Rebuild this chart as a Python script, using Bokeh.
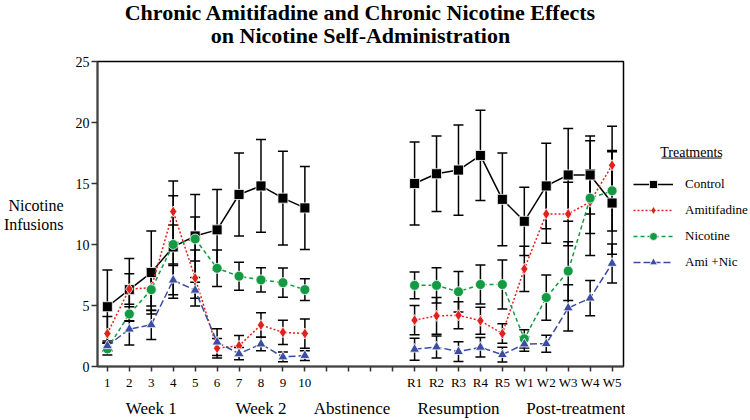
from bokeh.plotting import figure
from bokeh.layouts import row
from bokeh.models import (Range1d, FixedTicker, LinearAxis, Whisker, TeeHead,
                          ColumnDataSource, Label, Legend, LegendItem, Arrow, Title)
from bokeh.embed import file_html
from bokeh.resources import INLINE

FONT = "Liberation Serif"

# ---- data ----
tick_positions = list(range(1, 25))
tick_labels = ["1", "2", "3", "4", "5", "6", "7", "8", "9", "10",
               "", "", "", "",
               "R1", "R2", "R3", "R4", "R5", "W1", "W2", "W3", "W4", "W5"]
sessions_week = [1, 2, 3, 4, 5, 6, 7, 8, 9, 10]
sessions_resume = [15, 16, 17, 18, 19, 20, 21, 22, 23, 24]

control = [4.9, 6.3, 7.7, 9.8, 10.7, 11.2, 14.1, 14.8, 13.8, 13.0,
           15.0, 15.8, 16.1, 17.3, 13.7, 11.9, 14.8, 15.7, 15.7, 13.4]
control_err = [3.0, 2.55, 3.4, 4.2, 3.4, 3.3, 3.4, 3.8, 3.85, 3.4,
               3.4, 3.1, 3.7, 3.7, 3.8, 2.8, 3.5, 3.8, 3.2, 4.2]
amitifadine = [2.7, 6.35, 6.45, 12.7, 7.25, 1.5, 1.7, 3.4, 2.8, 2.7,
               3.8, 4.15, 4.2, 3.75, 2.7, 8.0, 12.5, 12.5, 13.5, 16.5]
amitifadine_err = [1.4, 1.25, 1.5, 2.5, 2.3, 0.8, 0.85, 1.0, 1.0, 1.2,
                   1.2, 1.5, 1.1, 1.1, 0.8, 1.85, 2.4, 2.6, 2.6, 3.2]
nicotine = [1.45, 4.3, 6.3, 10.0, 10.45, 8.05, 7.4, 7.1, 6.87, 6.3,
            6.65, 6.65, 6.13, 6.72, 6.72, 2.27, 5.65, 7.82, 13.8, 14.4]
nicotine_err = [0.5, 0.6, 1.7, 1.6, 1.8, 1.5, 1.15, 1.0, 1.2, 0.9,
                1.1, 1.45, 1.66, 1.6, 2.0, 0.75, 1.85, 2.4, 4.7, 3.3]
ami_nic = [1.7, 3.06, 3.42, 7.08, 6.25, 2.0, 1.05, 1.84, 0.78, 0.9,
           1.41, 1.6, 1.22, 1.57, 0.97, 1.84, 1.87, 4.8, 5.6, 8.45]
ami_nic_err = [0.4, 1.3, 1.2, 1.2, 0.65, 1.1, 0.5, 0.55, 0.4, 0.4,
               0.9, 0.9, 0.8, 0.8, 0.6, 0.6, 0.7, 1.9, 1.45, 1.6]

group_positions = [3, 8, 12.15, 17, 22.5]
group_labels = ["Week 1", "Week 2", "Abstinence", "Resumption", "Post-treatment"]

ylabel_positions = [13.2, 11.65]
ylabel_lines = ["Nicotine", "Infusions"]

title_lines = ["Chronic Amitifadine and Chronic Nicotine Effects",
               "on Nicotine Self-Administration"]
legend_title = "Treatments"

series = [
    ("Control", control, control_err, "black", "solid", "square", 10),
    ("Amitifadine", amitifadine, amitifadine_err, "#e3211c", "2 2", "diamond", 11),
    ("Nicotine", nicotine, nicotine_err, "#139a43", "4 3", "circle", 10),
    ("Ami +Nic", ami_nic, ami_nic_err, "#3b4da3", "7 3", "triangle", 10),
]

p = figure(width=625, height=420, output_backend="svg", toolbar_location=None,
           x_range=Range1d(0.55, 24.52), y_range=Range1d(0, 25),
           min_border_left=93, min_border_right=2, min_border_top=61,
           min_border_bottom=51, title=None)
p.grid.visible = False
p.outline_line_color = "black"
p.outline_line_width = 1.5

xs_all = sessions_week + sessions_resume
n = len(sessions_week)
for name, vals, errs, color, dash, marker, size in series:
    src = ColumnDataSource(dict(x=xs_all, y=vals,
                                upper=[v + e for v, e in zip(vals, errs)],
                                lower=[v - e for v, e in zip(vals, errs)]))
    w = Whisker(source=src, base="x", upper="upper", lower="lower",
                line_color="black", line_width=1.5,
                upper_head=TeeHead(size=10, line_color="black", line_width=1.5),
                lower_head=TeeHead(size=10, line_color="black", line_width=1.5))
    p.add_layout(w)
    p.line(sessions_week, vals[:n], line_color=color, line_dash=dash, line_width=1.5)
    p.line(sessions_resume, vals[n:], line_color=color, line_dash=dash, line_width=1.5)
    p.scatter("x", "y", source=src, marker=marker, size=size,
              fill_color=color, line_color="white", line_width=0.8)

# axes
xa = p.xaxis[0]
xa.ticker = FixedTicker(ticks=tick_positions)
xa.major_label_overrides = {t: s for t, s in zip(tick_positions, tick_labels)}
xa.major_tick_in = 0
xa.major_tick_out = 5
xa.minor_tick_line_color = None
xa.axis_line_color = "#444444"
xa.axis_line_width = 2
xa.major_tick_line_color = "#333333"
xa.major_tick_line_width = 1.5
xa.major_label_text_font = FONT
xa.major_label_text_font_size = "13px"
xa.major_label_standoff = 3
xa.major_label_text_color = "black"

ya = p.yaxis[0]
ya.ticker = FixedTicker(ticks=[0, 5, 10, 15, 20, 25])
ya.major_tick_in = 0
ya.major_tick_out = 6
ya.minor_tick_line_color = None
ya.axis_line_color = "#444444"
ya.axis_line_width = 2
ya.major_tick_line_color = "#333333"
ya.major_tick_line_width = 1.5
ya.major_label_text_font = FONT
ya.major_label_text_font_size = "14px"
ya.major_label_standoff = 2
ya.major_label_text_color = "black"
ya.axis_label_standoff = 0

gax = LinearAxis(ticker=FixedTicker(ticks=group_positions),
                 major_label_overrides={t: s for t, s in zip(group_positions, group_labels)},
                 axis_line_color=None, major_tick_line_color=None,
                 minor_tick_line_color=None, major_label_standoff=0,
                 major_label_text_font=FONT, major_label_text_font_size="17px",
                 major_label_text_color="black")
p.add_layout(gax, "below")

lax = LinearAxis(ticker=FixedTicker(ticks=ylabel_positions),
                 major_label_overrides={t: s for t, s in zip(ylabel_positions, ylabel_lines)},
                 axis_line_color=None, major_tick_line_color=None,
                 minor_tick_line_color=None, major_label_standoff=3,
                 axis_label_standoff=0,
                 major_label_text_font=FONT, major_label_text_font_size="16px",
                 major_label_text_color="black")
p.add_layout(lax, "left")

# title: two centred lines (second line is the panel next to the frame)
t2 = Title(text=title_lines[1], align="center", offset=-10, standoff=27,
           text_font=FONT, text_font_size="22px", text_font_style="bold",
           text_color="black")
t1 = Title(text=title_lines[0], align="center", offset=-10, standoff=-34,
           text_font=FONT, text_font_size="22px", text_font_style="bold",
           text_color="black")
p.add_layout(t2, "above")
p.add_layout(t1, "above")

# legend panel (separate small figure to the right); its frame aligns
# vertically with the main frame (page y 61..369)
leg = figure(width=125, height=420, output_backend="svg", toolbar_location=None,
             x_range=Range1d(0, 125), y_range=Range1d(369, 61),
             min_border=0, x_axis_type=None, y_axis_type=None)
leg.outline_line_color = None
leg.grid.visible = False
nan = float("nan")
items = []
for name, vals, errs, color, dash, marker, size in series:
    lr = leg.line([nan, nan], [nan, nan], line_color=color, line_dash=dash, line_width=1.5)
    mr = leg.scatter([nan], [nan], marker=marker, size=size, fill_color=color,
                     line_color="white", line_width=0.8)
    items.append(LegendItem(label=name, renderers=[lr, mr]))
legend = Legend(items=items, location=(8, 94), glyph_width=40, glyph_height=20,
                label_height=20, spacing=6, padding=0, margin=0,
                border_line_color=None, background_fill_alpha=0,
                label_standoff=12, label_text_font=FONT,
                label_text_font_size="13px", label_text_color="black")
leg.add_layout(legend)
leg.add_layout(Label(x=66, y=152.7, text=legend_title, text_align="center",
                     text_baseline="middle", text_font=FONT, text_font_size="14px",
                     text_color="black"))
leg.add_layout(Arrow(start=None, end=None, x_start=36, y_start=158.5,
                     x_end=96, y_end=158.5, line_color="black", line_width=1))

layout = row(p, leg)
open("out.html", "w").write(file_html(layout, INLINE))
